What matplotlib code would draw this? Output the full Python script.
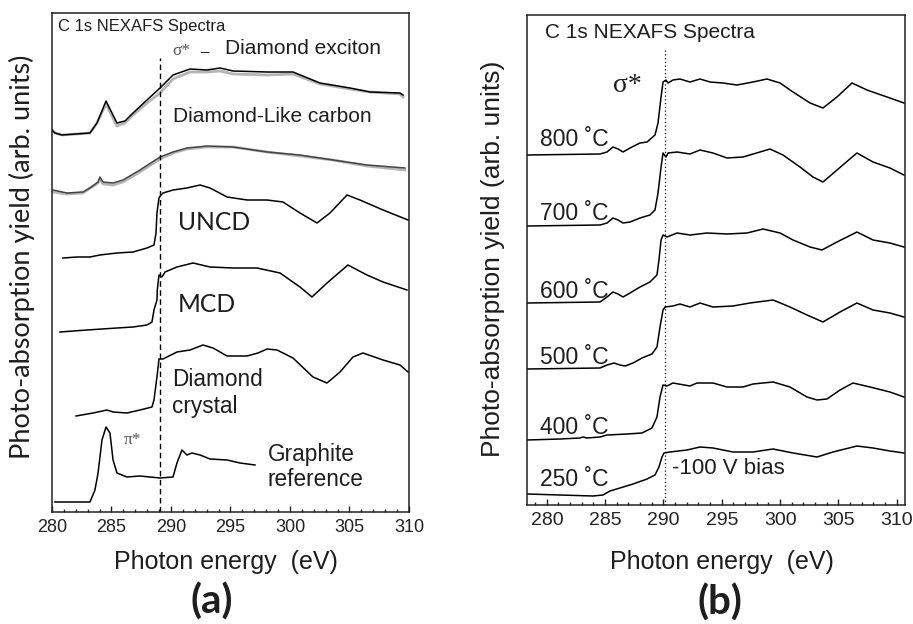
import matplotlib
matplotlib.use("Agg")
import matplotlib.pyplot as plt
from matplotlib.ticker import MultipleLocator

# ---------------- Panel (a) data: photon energy (eV) vs yield (arb. units, stacked) -------------
exc_x = [279.75, 280.25, 280.84, 283.19, 283.78, 284.54, 285.04, 285.46, 286.13, 286.81, 287.98,
         289.08, 290.17, 291.6, 293.03, 294.12, 295.21, 298.07, 300.25, 302.52, 305.04, 306.72,
         309.24, 309.5]
exc_y = [38.5, 37.9, 37.7, 37.9, 38.9, 41.1, 39.9, 38.9, 39.1, 39.9, 41.2, 42.4, 43.7, 44.3, 44.2,
         44.4, 44.1, 44.0, 44.0, 42.9, 42.4, 42.0, 41.9, 41.7]
exc_gray_y = [38.5, 37.9, 37.7, 37.9, 38.9, 40.8, 39.6, 38.6, 38.9, 39.7, 40.9, 41.9, 43.3, 44.0,
              44.0, 44.1, 43.8, 43.7, 43.8, 42.8, 42.3, 42.0, 41.8, 41.5]

dlc_x = [280.08, 281.26, 282.61, 283.19, 283.87, 284.03, 284.29, 285.13, 285.97, 287.39, 289.08,
         290.17, 291.34, 293.03, 295.21, 298.07, 300.84, 303.61, 306.47, 309.66]
dlc_y = [32.2, 31.9, 32.0, 32.4, 33.0, 33.5, 33.0, 32.9, 33.2, 34.2, 35.5, 36.0, 36.4, 36.6, 36.5,
         36.0, 35.7, 35.2, 34.7, 34.4]
dlc_gray_y = [32.0, 31.8, 31.9, 32.4, 32.9, 33.3, 32.8, 32.7, 33.0, 34.0, 35.3, 35.9, 36.3, 36.5,
              36.5, 36.0, 35.6, 35.2, 34.6, 34.2]

uncd_x = [280.92, 282.10, 283.19, 284.03, 285.46, 286.81, 287.98, 288.57, 288.74, 288.82, 288.99,
          289.16, 289.33, 290.17, 291.34, 292.44, 293.28, 294.71, 296.39, 298.07, 299.41, 300.84,
          302.27, 303.36, 304.79, 305.88, 307.82, 309.92]
uncd_y = [25.4, 25.5, 25.5, 25.7, 25.9, 26.0, 26.4, 26.7, 27.9, 29.9, 31.4, 31.7, 31.9, 32.2, 32.4,
          32.7, 32.4, 31.5, 31.2, 31.2, 31.0, 29.9, 28.9, 29.9, 31.7, 31.2, 30.2, 29.2]

mcd_x = [280.67, 282.94, 285.46, 286.81, 287.98, 288.40, 288.57, 288.82, 288.85, 288.99, 289.24,
         289.50, 290.50, 291.85, 293.28, 295.21, 297.23, 299.16, 300.84, 301.85, 303.11, 304.87,
         306.47, 307.82, 309.83]
mcd_y = [18.0, 18.2, 18.4, 18.5, 18.7, 19.0, 20.2, 21.2, 22.2, 23.7, 23.5, 24.0, 24.5, 24.9, 24.5,
         24.4, 24.4, 23.9, 22.5, 21.5, 22.9, 24.7, 23.7, 23.0, 22.2]

dia_x = [282.02, 283.45, 284.62, 285.13, 286.30, 287.39, 288.40, 288.57, 288.82, 288.99, 289.33,
         289.66, 290.50, 291.60, 292.69, 293.53, 294.71, 296.39, 297.31, 298.07, 298.91, 300.25,
         301.93, 303.11, 304.20, 305.29, 306.13, 307.82, 309.24, 309.92]
dia_y = [9.6, 9.9, 10.2, 10.0, 9.9, 10.2, 10.5, 11.2, 13.5, 15.3, 15.3, 15.5, 16.0, 16.2, 16.7, 16.4,
         15.6, 15.6, 15.9, 16.3, 16.2, 15.4, 13.5, 12.9, 14.0, 15.5, 15.9, 15.2, 14.7, 14.0]

gra_x = [280.25, 283.19, 283.61, 283.87, 284.20, 284.54, 284.87, 285.13, 285.46, 286.30, 287.39,
         289.08, 290.17, 290.50, 290.92, 291.34, 291.76, 292.44, 293.28, 294.71, 295.80, 297.06]
gra_y = [1.0, 1.0, 2.2, 3.9, 7.2, 8.5, 7.9, 5.2, 3.9, 3.5, 3.6, 3.4, 3.5, 4.9, 6.2, 5.7, 5.9, 5.7,
         5.3, 5.2, 4.9, 4.7]

edge_a = 289.1

# ---------------- Panel (b) data ----------------
t800_x = [278.3, 284.56, 285.16, 285.67, 286.1, 286.53, 287.13, 287.99, 288.59, 289.27, 289.53,
          289.79, 289.96, 290.21, 290.39, 290.81, 291.41, 292.27, 293.13, 293.99, 295.1, 296.3,
          297.67, 298.87, 299.99, 301.1, 302.56, 303.67, 304.87, 306.16, 307.44, 309.16, 310.61]
t800_y = [35.0, 35.1, 35.3, 35.8, 35.6, 35.3, 35.7, 36.2, 36.3, 37.0, 38.2, 40.8, 42.3, 42.5, 42.2,
          42.5, 42.6, 42.3, 42.6, 42.3, 42.2, 42.0, 42.3, 42.6, 42.2, 41.3, 40.2, 39.7, 40.8, 42.2,
          41.5, 40.8, 40.2]

t700_x = [278.3, 284.56, 285.16, 285.67, 286.1, 286.53, 287.13, 287.99, 288.84, 289.27, 289.53,
          289.79, 289.96, 290.21, 290.39, 291.16, 292.27, 293.13, 294.24, 295.44, 296.81, 298.27,
          299.13, 300.24, 301.7, 302.81, 303.67, 304.87, 306.58, 307.96, 309.41, 310.61]
t700_y = [27.9, 28.0, 28.2, 28.7, 28.5, 28.2, 28.3, 28.7, 29.0, 29.5, 31.2, 33.8, 35.2, 34.8, 35.2,
          35.3, 35.1, 35.5, 35.2, 34.7, 34.8, 35.3, 35.6, 35.0, 33.8, 32.8, 32.3, 33.5, 35.2, 34.3,
          33.7, 33.0]

t600_x = [278.3, 284.56, 285.16, 285.67, 286.1, 286.53, 287.13, 287.99, 288.84, 289.44, 289.61,
          289.79, 289.96, 290.3, 291.16, 292.27, 293.73, 295.44, 297.16, 298.53, 299.99, 301.1,
          302.56, 303.58, 304.87, 306.58, 307.96, 309.41, 310.61]
t600_y = [20.2, 20.3, 20.8, 21.3, 21.1, 20.8, 21.2, 21.8, 22.3, 23.0, 24.5, 26.5, 27.0, 26.8, 27.2,
          27.0, 27.2, 27.1, 27.2, 27.6, 27.2, 26.5, 25.8, 25.5, 26.3, 27.3, 26.5, 26.2, 25.8]

t500_x = [278.3, 284.56, 285.16, 285.76, 286.27, 286.7, 287.39, 288.16, 289.01, 289.44, 289.7,
          289.96, 290.13, 290.81, 291.41, 292.27, 293.13, 294.24, 295.96, 297.41, 299.39, 300.84,
          302.3, 303.67, 305.13, 306.58, 307.96, 309.41, 310.61]
t500_y = [13.6, 13.7, 14.0, 14.2, 14.0, 13.9, 14.2, 14.7, 15.1, 15.8, 17.8, 19.5, 19.8, 19.9, 20.1,
          19.8, 20.2, 19.8, 19.9, 20.2, 20.5, 19.8, 19.0, 18.3, 19.3, 20.2, 19.5, 19.2, 18.8]

t400_x = [278.3, 281.13, 282.84, 283.1, 283.44, 284.56, 285.16, 286.87, 288.16, 289.01, 289.44,
          289.7, 289.96, 290.3, 290.81, 292.27, 292.87, 294.24, 295.44, 296.81, 297.67, 299.39,
          300.84, 302.3, 303.16, 304.01, 305.13, 306.24, 307.7, 309.41, 310.61]
t400_y = [6.5, 6.6, 6.7, 6.8, 6.7, 6.8, 7.0, 7.1, 7.2, 7.7, 8.8, 10.8, 12.0, 11.9, 12.2, 11.9, 12.2,
          12.2, 11.8, 11.8, 12.1, 12.3, 11.8, 10.8, 10.5, 10.6, 11.5, 12.2, 11.8, 11.3, 10.8]

t250_x = [278.3, 281.13, 283.96, 284.81, 285.41, 286.27, 287.39, 288.59, 289.27, 289.61, 289.87,
          290.04, 290.56, 292.01, 293.13, 294.24, 295.96, 297.67, 299.39, 301.1, 303.16, 304.53,
          306.58, 307.96, 309.41, 310.61]
t250_y = [1.1, 1.0, 0.9, 1.0, 1.4, 1.7, 2.1, 2.6, 3.0, 3.8, 4.8, 5.2, 5.3, 5.5, 5.8, 5.7, 5.3, 5.3,
          5.6, 5.2, 4.8, 5.3, 5.9, 5.7, 5.4, 5.2]

temps = ["800", "700", "600", "500", "400", "250"]
temp_label_y = [36.5, 29.2, 21.3, 14.7, 7.8, 2.5]
edge_b = 290.13

SANS = ["Liberation Sans", "DejaVu Sans"]
CAL = ["Lato", "DejaVu Sans"]
SERIF = ["Liberation Serif", "DejaVu Serif"]
TXT = "#1e1e1e"

fig = plt.figure(figsize=(9.13, 6.24), dpi=100)
axa = fig.add_axes([52 / 913, 1 - 512 / 624, 357 / 913, 499 / 624])
axb = fig.add_axes([527 / 913, 1 - 505 / 624, 378 / 913, 490 / 624])


def style(ax, fs):
    ax.xaxis.set_major_locator(MultipleLocator(5))
    ax.xaxis.set_minor_locator(MultipleLocator(1))
    ax.set_yticks([])
    ax.tick_params(axis="x", which="both", direction="in", top=False, width=1.0,
                   labelsize=fs, pad=5, colors="#222222")
    ax.tick_params(axis="x", which="major", length=4.5)
    ax.tick_params(axis="x", which="minor", length=2.5)
    for lab in ax.get_xticklabels():
        lab.set_family(SANS)
    for s in ax.spines.values():
        s.set_linewidth(1.1)
        s.set_color("#222222")


# ---------------- Panel (a) ----------------
axa.plot(exc_x, exc_gray_y, color="#b5b5b5", lw=2.0)
axa.plot(exc_x, exc_y, color="black", lw=1.1)
axa.plot(dlc_x, dlc_gray_y, color="#b5b5b5", lw=2.0)
axa.plot(dlc_x, dlc_y, color="#444444", lw=1.1)
axa.plot(uncd_x, uncd_y, color="black", lw=1.1)
axa.plot(mcd_x, mcd_y, color="black", lw=1.1)
axa.plot(dia_x, dia_y, color="black", lw=1.1)
axa.plot(gra_x, gra_y, color="black", lw=1.1)
axa.plot([edge_a, edge_a], [0, 45.4], color="black", lw=1.0, ls=(0, (4, 2.5)))
axa.set_xlim(280, 310)
axa.set_ylim(0, 49.9)
style(axa, 13)

axa.text(280.5, 48.6, "C 1s NEXAFS Spectra", family=SANS, fontsize=12, color=TXT, va="center")
axa.text(290.1, 46.1, "σ*", family=SERIF, fontsize=12.5, color="#555555", va="center")
axa.text(292.5, 46.0, "–", family=SANS, fontsize=11, color="#222222", va="center")
axa.text(294.5, 46.4, "Diamond exciton", family=SANS, fontsize=15, color=TXT, va="center")
axa.text(290.17, 39.5, "Diamond-Like carbon", family=SANS, fontsize=15, color=TXT, va="center")
axa.text(290.6, 29.0, "UNCD", family=CAL, fontsize=17.7, color=TXT, va="center")
axa.text(290.6, 20.8, "MCD", family=CAL, fontsize=17.7, color=TXT, va="center")
axa.text(290.1, 13.2, "Diamond", family=SANS, fontsize=16.3, color=TXT, va="center")
axa.text(290.1, 10.5, "crystal", family=SANS, fontsize=16.3, color=TXT, va="center")
axa.text(298.15, 5.8, "Graphite", family=SANS, fontsize=16.3, color=TXT, va="center")
axa.text(298.15, 3.2, "reference", family=SANS, fontsize=16.3, color=TXT, va="center")
axa.text(286.05, 7.2, "π*", family=SERIF, fontsize=12.5, color="#555555", va="center")

axa.set_xlabel("Photon energy  (eV)", family=SANS, fontsize=18, color=TXT)
axa.xaxis.set_label_coords(0.487, -0.100)
axa.xaxis.label.set_va("center")
axa.set_ylabel("Photo-absorption yield (arb. units)", family=CAL, fontsize=19.5, color=TXT)
axa.yaxis.set_label_coords(-0.084, 0.511)
axa.yaxis.label.set_va("center")

# ---------------- Panel (b) ----------------
for xs, ys in [(t800_x, t800_y), (t700_x, t700_y), (t600_x, t600_y),
               (t500_x, t500_y), (t400_x, t400_y), (t250_x, t250_y)]:
    axb.plot(xs, ys, color="black", lw=1.1)
axb.plot([edge_b, edge_b], [0, 45.7], color="black", lw=0.9, ls=(0, (1, 2)))
axb.set_xlim(278.3, 310.7)
axb.set_ylim(0, 49)
style(axb, 14)

axb.text(279.84, 47.2, "C 1s NEXAFS Spectra", family=SANS, fontsize=15, color=TXT, va="center")
axb.text(285.67, 42.0, "σ*", family=SERIF, fontsize=20, color=TXT, va="center")
for t, yy in zip(temps, temp_label_y):
    axb.text(279.41, yy, t + " ˚C", family=SANS, fontsize=16.5, color=TXT, va="center")
axb.text(290.73, 3.6, "-100 V bias", family=SANS, fontsize=16, color=TXT, va="center")

axb.set_xlabel("Photon energy  (eV)", family=SANS, fontsize=18, color=TXT)
axb.xaxis.set_label_coords(0.516, -0.116)
axb.xaxis.label.set_va("center")
axb.set_ylabel("Photo-absorption yield (arb. units)", family=SANS, fontsize=19, color=TXT)
axb.yaxis.set_label_coords(-0.090, 0.502)
axb.yaxis.label.set_va("center")

fig.text(212 / 913, 1 - 602 / 624, "(a)", family=CAL, fontsize=29, fontweight="bold",
         color=TXT, ha="center", va="center")
fig.text(720 / 913, 1 - 603 / 624, "(b)", family=CAL, fontsize=29, fontweight="bold",
         color=TXT, ha="center", va="center")

fig.savefig("out.png", dpi=100)
